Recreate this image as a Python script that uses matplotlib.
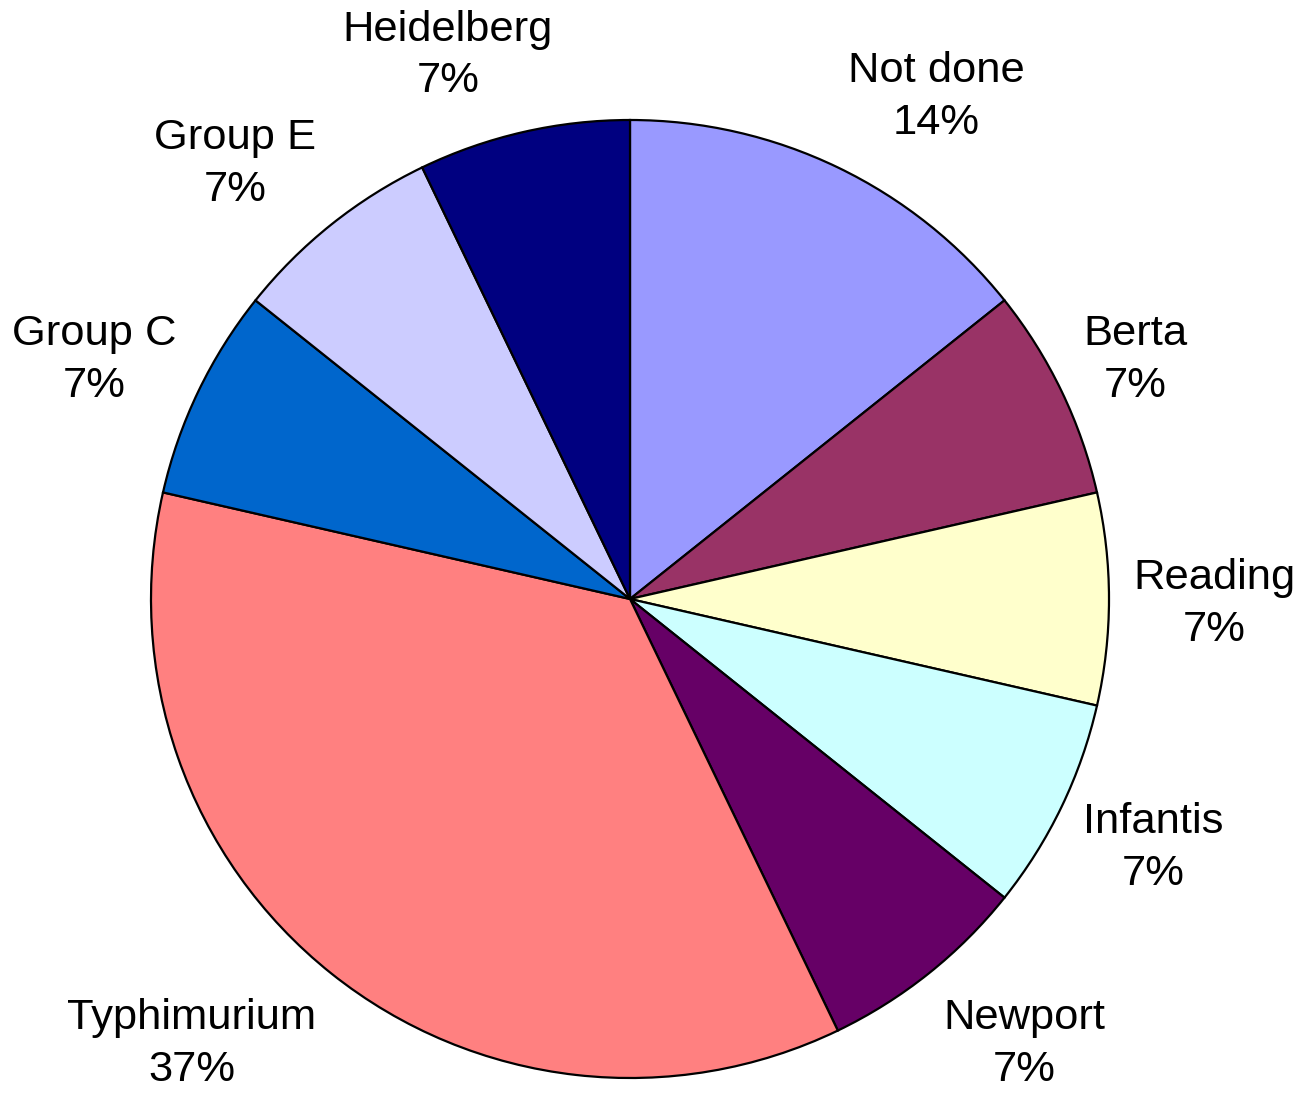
import numpy as np
import matplotlib
matplotlib.use("Agg")
import matplotlib.pyplot as plt

categories = ["Not done", "Berta", "Reading", "Infantis", "Newport",
              "Typhimurium", "Group C", "Group E", "Heidelberg"]
counts = [2, 1, 1, 1, 1, 5, 1, 1, 1]
pct_labels = ["14%", "7%", "7%", "7%", "7%", "37%", "7%", "7%", "7%"]
colors = ["#9999FF", "#993366", "#FFFFCC", "#CCFFFF", "#660066",
          "#FF8080", "#0066CC", "#CCCCFF", "#000080"]

W, H = 1296, 1097
fig = plt.figure(figsize=(W / 100, H / 100), dpi=100)
ax = fig.add_axes([0, 0, 1, 1])
ax.set_xlim(0, W)
ax.set_ylim(0, H)
ax.set_aspect("equal")
ax.axis("off")

cx, cy, R = 630, H - 599, 479
wedges, _ = ax.pie(counts, colors=colors, startangle=90, counterclock=False,
                   center=(cx, cy), radius=R,
                   wedgeprops=dict(edgecolor="black", linewidth=1.6))
ax.set_xlim(0, W)
ax.set_ylim(0, H)

fig.canvas.draw()
renderer = fig.canvas.get_renderer()
for w, name, pct in zip(wedges, categories, pct_labels):
    theta = np.deg2rad((w.theta1 + w.theta2) / 2)
    c, s = np.cos(theta), np.sin(theta)
    t = ax.text(0, 0, f"{name}\n{pct}", ha="center", va="center",
                multialignment="center", fontsize=31.3,
                family="Liberation Sans", linespacing=1.38)
    bb = t.get_window_extent(renderer)
    bw, bh = bb.width, bb.height
    d = R * 1.05
    ax_x = cx + d * c + np.clip(3 * c, -1, 1) * bw / 2
    ax_y = cy + d * s + s * bh * 0.65 - 5
    t.set_position((ax_x, ax_y))

fig.savefig("out.png", dpi=100)
